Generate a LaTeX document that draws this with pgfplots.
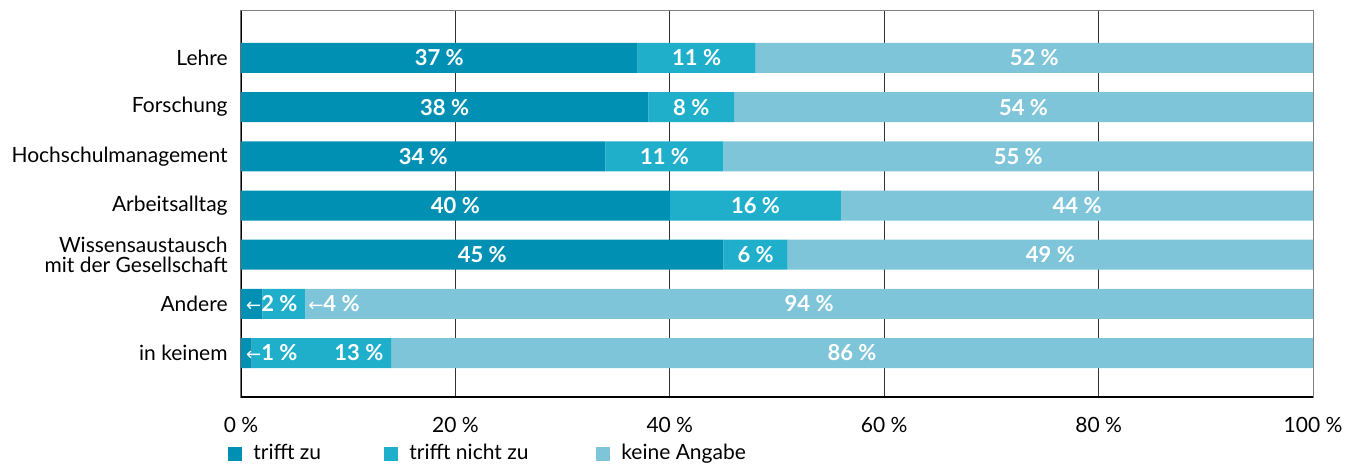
\documentclass[border=0pt]{standalone}
\usepackage{fontspec}
\setmainfont{Lato}
\newfontfamily\arrowfont{DejaVu Sans}
\usepackage{pgfplots}
\pgfplotsset{compat=1.18}

\definecolor{cDark}{RGB}{0,144,179}
\definecolor{cMid}{RGB}{31,175,203}
\definecolor{cLight}{RGB}{127,197,218}

\pgfplotsset{
  common/.style={scale only axis, width=536pt, height=193pt,
    xmin=0, xmax=100, ymin=-0.955, ymax=6.894, y dir=reverse},
}

\begin{document}
\begin{tikzpicture}[font=\fontsize{10.5}{10}\selectfont]
\begin{axis}[common, name=ax,
  xbar stacked, bar width=0.61,
  axis line style={draw=black!50, line width=0.5pt},
  xtick={0,20,...,100},
  xticklabels={0 \%,20 \%,40 \%,60 \%,80 \%,100 \%},
  xmajorgrids, grid style={black!80, line width=0.5pt},
  major tick length=0pt,
  ytick={0,...,6},
  yticklabels={Lehre,Forschung,Hochschulmanagement,Arbeitsalltag,{Wissensaustausch\\mit der Gesellschaft},Andere,in keinem},
  yticklabel style={align=right, inner sep=0pt, xshift=-6.5pt},
  xticklabel style={inner sep=0pt, yshift=-10pt},
  legend columns=3,
  legend style={draw=none, fill=none, at={(0,0)}, anchor=west,
    xshift=-6.5pt, yshift=-28.25pt, inner sep=0pt, column sep=0pt,
    nodes={inner sep=0pt, anchor=west}},
  legend image code/.code={\fill[#1] (0pt,-3.5pt) rectangle (7pt,3.5pt);},
]
\addplot[fill=cDark, draw=none] coordinates {(37,0) (38,1) (34,2) (40,3) (45,4) (2,5) (1,6)};
\addlegendentry{\hspace{5.5pt}\makebox[65.5pt][l]{trifft zu}}
\addplot[fill=cMid, draw=none] coordinates {(11,0) (8,1) (11,2) (16,3) (6,4) (4,5) (13,6)};
\addlegendentry{\hspace{5.5pt}\makebox[93.5pt][l]{trifft nicht zu}}
\addplot[fill=cLight, draw=none] coordinates {(52,0) (54,1) (55,2) (44,3) (49,4) (94,5) (86,6)};
\addlegendentry{\hspace{5.5pt}keine Angabe}
\draw[black, line width=0.9pt] (rel axis cs:0,1) -- (rel axis cs:0,0) -- (rel axis cs:1,0);
\end{axis}

\begin{axis}[common, hide axis, clip=false,
  point meta=explicit symbolic,
  nodes near coords,
  every node near coord/.append style={font=\fontsize{11}{10}\selectfont\bfseries, text=white, inner sep=0pt},
]
\addplot[only marks, mark=none, nodes near coords align={center}] coordinates {
  (18.5,0) [37 \%] (42.5,0) [11 \%] (74,0) [52 \%]
  (19,1) [38 \%] (42,1) [8 \%] (73,1) [54 \%]
  (17,2) [34 \%] (39.5,2) [11 \%] (72.5,2) [55 \%]
  (20,3) [40 \%] (48,3) [16 \%] (78,3) [44 \%]
  (22.5,4) [45 \%] (48,4) [6 \%] (75.5,4) [49 \%]
  (53,5) [94 \%]
  (11,6) [13 \%] (57,6) [86 \%]
};
\addplot[only marks, mark=none, nodes near coords align={west}] coordinates {
  (0.45,5) [{\arrowfont\mdseries\fontsize{9}{9}\selectfont ←}2 \%]
  (6.25,5) [{\arrowfont\mdseries\fontsize{9}{9}\selectfont ←}4 \%]
  (0.45,6) [{\arrowfont\mdseries\fontsize{9}{9}\selectfont ←}1 \%]
};
\end{axis}
\path[use as bounding box] ([xshift=-120.5pt,yshift=-37pt]ax.south west) rectangle ([xshift=17.5pt,yshift=5.5pt]ax.north east);
\end{tikzpicture}
\end{document}
